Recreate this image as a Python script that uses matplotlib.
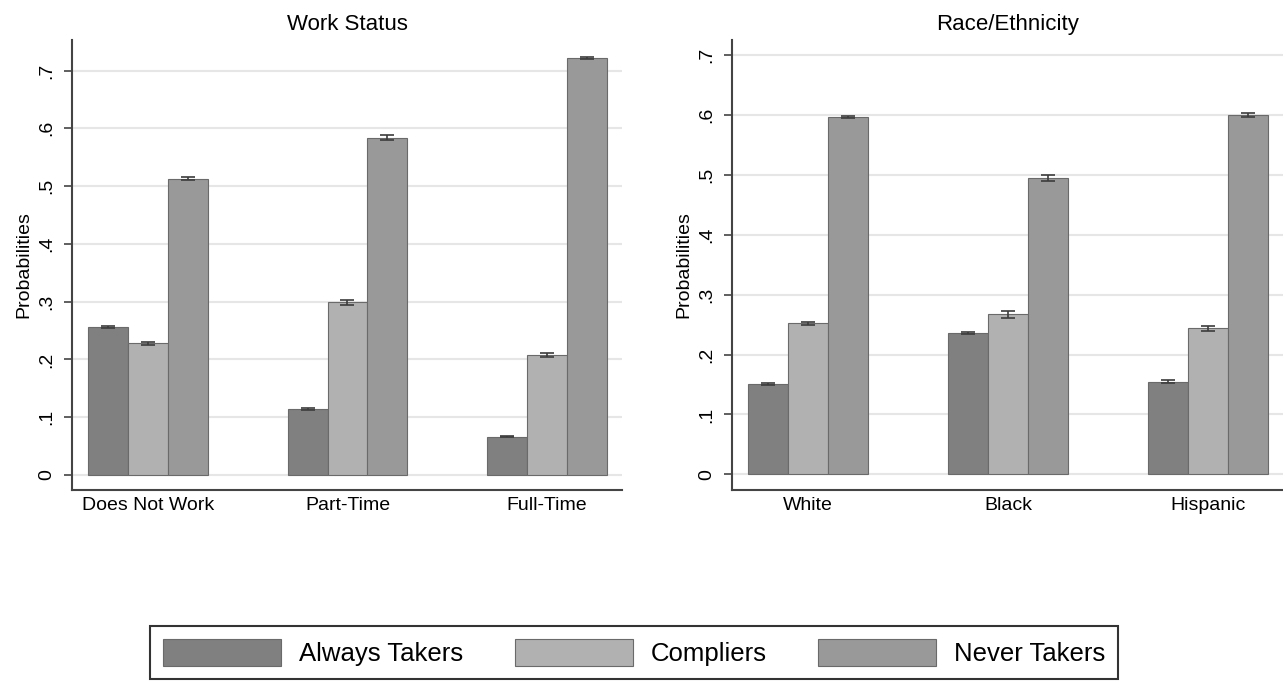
# 就労状況・人種別のタイプ確率を描画
import numpy as np
import matplotlib.pyplot as plt

plt.rcParams['font.family'] = ['Liberation Sans Narrow', 'Liberation Sans', 'DejaVu Sans']

# データ
SERIES = ['Always Takers', 'Compliers', 'Never Takers']

WORK_LABELS = ['Does Not Work', 'Part-Time', 'Full-Time']
WORK_ALWAYS = [0.256, 0.114, 0.066]
WORK_COMPLIERS = [0.228, 0.299, 0.208]
WORK_NEVER = [0.513, 0.584, 0.722]
WORK_ALWAYS_ERR = [0.002, 0.002, 0.001]
WORK_COMPLIERS_ERR = [0.003, 0.004, 0.003]
WORK_NEVER_ERR = [0.002, 0.004, 0.002]

RACE_LABELS = ['White', 'Black', 'Hispanic']
RACE_ALWAYS = [0.151, 0.236, 0.155]
RACE_COMPLIERS = [0.252, 0.267, 0.244]
RACE_NEVER = [0.596, 0.495, 0.600]
RACE_ALWAYS_ERR = [0.002, 0.002, 0.003]
RACE_COMPLIERS_ERR = [0.003, 0.006, 0.004]
RACE_NEVER_ERR = [0.002, 0.005, 0.003]

YTICKS = [0, 0.1, 0.2, 0.3, 0.4, 0.5, 0.6, 0.7]
YTICK_LABELS = ['0', '.1', '.2', '.3', '.4', '.5', '.6', '.7']

# スタイル
COLORS = ['#808080', '#b1b1b1', '#999999']
EDGE = '#6a6a6a'
BAR_W = 0.2


def draw_panel(ax, title, labels, values, errors, ytop):
    x = np.arange(len(labels))
    bars = []
    for i, (vals, errs) in enumerate(zip(values, errors)):
        b = ax.bar(x + (i - 1) * BAR_W, vals, BAR_W, color=COLORS[i],
                   edgecolor=EDGE, linewidth=0.8, label=SERIES[i], zorder=2)
        ax.errorbar(x + (i - 1) * BAR_W, vals, yerr=errs, fmt='none',
                    ecolor='#3c3c3c', elinewidth=1.2, capsize=5, capthick=1.2, zorder=3)
        bars.append(b)
    ax.set_xlim(-0.38, 2.375)
    ax.set_ylim(-0.026, ytop)
    ax.set_yticks(YTICKS)
    ax.set_yticklabels(YTICK_LABELS, rotation=90, va='center', fontsize=14)
    ax.set_xticks(x)
    ax.set_xticklabels(labels, fontsize=14)
    ax.tick_params(axis='x', length=0, pad=5)
    ax.tick_params(axis='y', length=6, width=1.2, color='#444444', pad=6)
    ax.grid(axis='y', color='#e6e6e6', linewidth=1.5, zorder=0)
    ax.set_axisbelow(True)
    for s in ['top', 'right']:
        ax.spines[s].set_visible(False)
    for s in ['left', 'bottom']:
        ax.spines[s].set_color('#444444')
        ax.spines[s].set_linewidth(1.5)
    ax.set_ylabel('Probabilities', fontsize=14, labelpad=4)
    ax.set_title(title, fontsize=16, pad=7)
    return bars


def main():
    fig = plt.figure(figsize=(12.83, 6.81), dpi=100)
    ax1 = fig.add_axes([0.0561, 0.2805, 0.4287, 0.6608])
    ax2 = fig.add_axes([0.5705, 0.2805, 0.4295, 0.6608])

    bars = draw_panel(ax1, 'Work Status', WORK_LABELS,
                      [WORK_ALWAYS, WORK_COMPLIERS, WORK_NEVER],
                      [WORK_ALWAYS_ERR, WORK_COMPLIERS_ERR, WORK_NEVER_ERR], 0.753)
    draw_panel(ax2, 'Race/Ethnicity', RACE_LABELS,
               [RACE_ALWAYS, RACE_COMPLIERS, RACE_NEVER],
               [RACE_ALWAYS_ERR, RACE_COMPLIERS_ERR, RACE_NEVER_ERR], 0.725)

    # 凡例（下端は画像の外にはみ出す）
    leg = fig.legend(bars, SERIES, loc='upper left', bbox_to_anchor=(150 / 1283, 1 - 626 / 681),
                     ncol=3, fontsize=18.5, frameon=True, fancybox=False,
                     handlelength=4.6, handleheight=1.25, handletextpad=0.7,
                     columnspacing=2.0, borderpad=0.5, borderaxespad=0)
    leg.get_frame().set_edgecolor('black')
    leg.get_frame().set_linewidth(1.5)

    fig.savefig('out.png', dpi=100)


if __name__ == '__main__':
    main()
